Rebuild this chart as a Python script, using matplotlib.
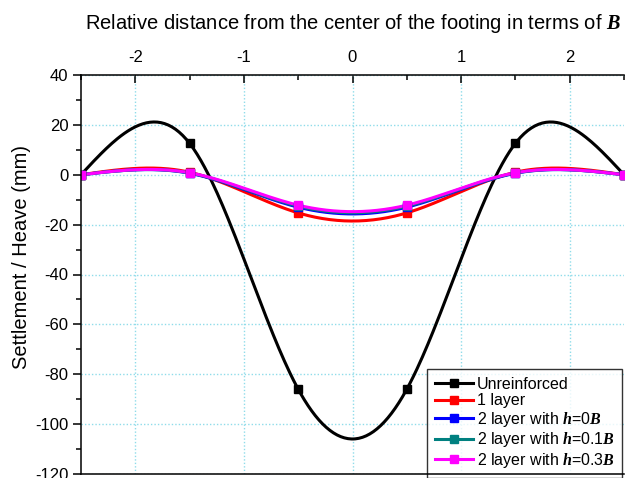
import numpy as np
import matplotlib
matplotlib.use("Agg")
import matplotlib.pyplot as plt
from matplotlib.ticker import MultipleLocator

# Relative distance from footing centre (in terms of B)
distance = [-2.5, -1.5, -0.5, 0.5, 1.5, 2.5]

# Settlement / heave (mm) for each reinforcement case
unreinforced = [0.0, 12.6, -86.0, -86.0, 12.6, 0.0]
one_layer = [0.0, 1.0, -15.3, -15.3, 1.0, 0.0]
two_layer_h0 = [0.0, 0.6, -13.0, -13.0, 0.6, 0.0]
two_layer_h01 = [0.0, 0.7, -12.6, -12.6, 0.7, 0.0]
two_layer_h03 = [0.0, 0.8, -12.2, -12.2, 0.8, 0.0]

series_labels = [
    "Unreinforced",
    "1 layer",
    r"2 layer with $\mathbf{h}$=0$\mathbf{B}$",
    r"2 layer with $\mathbf{h}$=0.1$\mathbf{B}$",
    r"2 layer with $\mathbf{h}$=0.3$\mathbf{B}$",
]
series_colors = ["#000000", "#ff0000", "#0000ff", "#008080", "#ff00ff"]

plt.rcParams["font.family"] = ["Liberation Sans", "DejaVu Sans"]
plt.rcParams["axes.unicode_minus"] = False
plt.rcParams["mathtext.fontset"] = "custom"
plt.rcParams["mathtext.bf"] = "Liberation Serif:bold:italic"
plt.rcParams["mathtext.it"] = "Liberation Serif:bold:italic"
plt.rcParams["mathtext.rm"] = "Liberation Sans"


def natural_spline(x, y, n=300):
    """Smooth natural cubic spline connection through the data points."""
    x = np.asarray(x, float)
    y = np.asarray(y, float)
    k = len(x)
    h = np.diff(x)
    A = np.zeros((k, k))
    b = np.zeros(k)
    A[0, 0] = A[-1, -1] = 1.0
    for i in range(1, k - 1):
        A[i, i - 1] = h[i - 1]
        A[i, i] = 2 * (h[i - 1] + h[i])
        A[i, i + 1] = h[i]
        b[i] = 6 * ((y[i + 1] - y[i]) / h[i] - (y[i] - y[i - 1]) / h[i - 1])
    M = np.linalg.solve(A, b)
    xs = np.linspace(x[0], x[-1], n)
    idx = np.clip(np.searchsorted(x, xs) - 1, 0, k - 2)
    x0, x1 = x[idx], x[idx + 1]
    hh = x1 - x0
    ys = (M[idx] * (x1 - xs) ** 3 / (6 * hh) + M[idx + 1] * (xs - x0) ** 3 / (6 * hh)
          + (y[idx] / hh - M[idx] * hh / 6) * (x1 - xs)
          + (y[idx + 1] / hh - M[idx + 1] * hh / 6) * (xs - x0))
    return xs, ys


fig = plt.figure(figsize=(6.25, 4.78), dpi=100)
ax = fig.add_axes([81 / 625, 1 - 474 / 478, (624 - 81) / 625, (474 - 75) / 478])

all_series = [unreinforced, one_layer, two_layer_h0, two_layer_h01, two_layer_h03]
for vals, lab, col in zip(all_series, series_labels, series_colors):
    xs, ys = natural_spline(distance, vals)
    ax.plot(xs, ys, color=col, lw=2.2, solid_capstyle="round", zorder=3)
    ax.plot(distance, vals, ls="none", marker="s", ms=6, color=col, zorder=4)
    ax.plot([], [], color=col, lw=2.2, marker="s", ms=6, label=lab)

ax.set_xlim(-2.5, 2.5)
ax.set_ylim(-120, 40)

ax.xaxis.set_major_locator(MultipleLocator(1))
ax.xaxis.set_minor_locator(MultipleLocator(0.5))
ax.yaxis.set_major_locator(MultipleLocator(20))
ax.yaxis.set_minor_locator(MultipleLocator(10))

ax.xaxis.tick_top()
ax.xaxis.set_label_position("top")
ax.tick_params(axis="x", which="major", direction="in", length=6, width=1.1,
               labelsize=12, pad=7, top=True, bottom=False)
ax.tick_params(axis="x", which="minor", direction="in", length=3.5, width=1.1,
               top=True, bottom=False)
ax.tick_params(axis="y", which="major", direction="out", length=6, width=1.1,
               labelsize=12, pad=3)
ax.tick_params(axis="y", which="minor", direction="out", length=3.5, width=1.1)
ax.set_xticks([-2, -1, 0, 1, 2])
ax.set_xticklabels(["-2", "-1", "0", "1", "2"])

for side in ("top", "left", "bottom"):
    ax.spines[side].set_linewidth(1.1)
    ax.spines[side].set_zorder(6)
ax.spines["right"].set_visible(False)

ax.grid(True, which="major", color="#8fdcea", ls=(0, (1, 1.5)), lw=1.0)
ax.set_axisbelow(True)

ax.set_xlabel(r"Relative distance from the center of the footing in terms of $\mathbf{B}$",
              fontsize=14.5, labelpad=15)
ax.set_ylabel("Settlement / Heave (mm)", fontsize=14.5)
ax.yaxis.set_label_coords((31 - 81) / 543, (474 - 257) / 399)

leg = ax.legend(loc="lower left", bbox_to_anchor=((427 - 81) / 543, -4 / 399),
                borderaxespad=0, fontsize=11.5, frameon=True, fancybox=False,
                handlelength=2.4, handletextpad=0.2, labelspacing=0.1,
                borderpad=0.5)
leg.get_frame().set_edgecolor("black")
leg.get_frame().set_linewidth(1.0)
leg.set_zorder(5)

fig.savefig("out.png", dpi=100)
